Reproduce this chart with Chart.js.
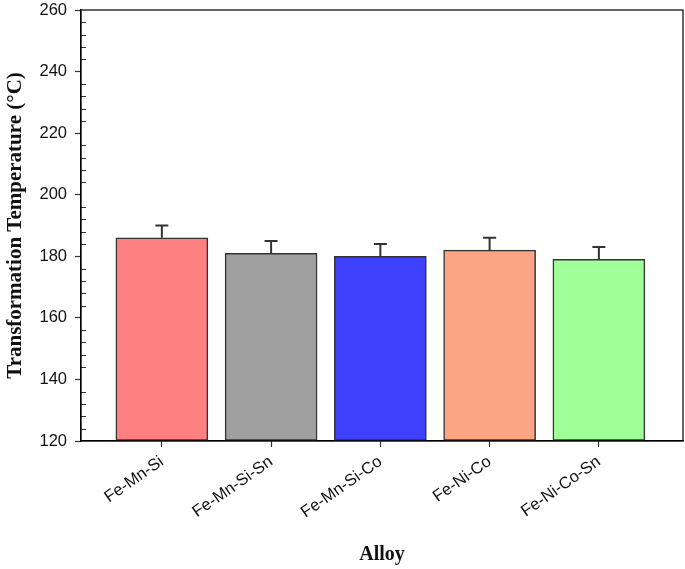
<!DOCTYPE html>
<html>
<head>
<meta charset="utf-8">
<script src="https://cdn.jsdelivr.net/npm/chart.js@4"></script>
<style>
html,body{margin:0;padding:0;background:#fff;}
canvas{display:block;}
</style>
</head>
<body>
<canvas id="c" width="685" height="569"></canvas>
<script>
const categories = ['Fe-Mn-Si', 'Fe-Mn-Si-Sn', 'Fe-Mn-Si-Co', 'Fe-Ni-Co', 'Fe-Ni-Co-Sn'];
const values = [186, 181, 180, 182, 179];
const errors = [4, 4, 4, 4, 4];
const barColors = ['#FF8080', '#A0A0A0', '#4040FF', '#FCA584', '#A0FF98'];
const yTicks = [120, 140, 160, 180, 200, 220, 240, 260];

const chartPlugin = {
  id: 'extras',
  afterDatasetsDraw(chart) {
    const ctx = chart.ctx;
    const xs = chart.scales.x, ys = chart.scales.y;
    ctx.save();
    ctx.strokeStyle = '#333';
    ctx.lineWidth = 2;
    values.forEach((v, i) => {
      const x = xs.getPixelForValue(i);
      const y0 = ys.getPixelForValue(v);
      const y1 = ys.getPixelForValue(v + errors[i]);
      ctx.beginPath();
      ctx.moveTo(x, y0); ctx.lineTo(x, y1);
      ctx.moveTo(x - 6.5, y1); ctx.lineTo(x + 6.5, y1);
      ctx.stroke();
    });
    ctx.strokeStyle = '#333';
    ctx.lineWidth = 1;
    const left = chart.chartArea.left;
    for (let v = ys.min; v <= ys.max; v += 4) {
      if ((v - ys.min) % 20 === 0) continue;
      const y = Math.round(ys.getPixelForValue(v)) + 0.5;
      ctx.beginPath();
      ctx.moveTo(left, y); ctx.lineTo(left + 5, y);
      ctx.stroke();
    }
    const a = chart.chartArea;
    ctx.strokeStyle = '#000';
    ctx.lineWidth = 1.2;
    ctx.strokeRect(a.left, a.top, a.right - a.left, a.bottom - a.top);
    ctx.restore();
  }
};

new Chart(document.getElementById('c'), {
  type: 'bar',
  data: {
    datasets: [{
      data: values.map((v, i) => ({x: i, y: v})),
      backgroundColor: barColors,
      borderColor: '#333',
      borderWidth: 1.5,
      borderSkipped: false,
      barThickness: 92,
      base: 120
    }]
  },
  options: {
    responsive: false,
    animation: false,
    layout: {padding: {top: 10, right: 2, left: 0, bottom: 0}},
    plugins: {legend: {display: false}, tooltip: {enabled: false}},
    scales: {
      x: {
        type: 'linear',
        offset: false,
        min: -0.74,
        max: 4.77,
        afterBuildTicks(scale) { scale.ticks = categories.map((c, i) => ({value: i})); },
        afterFit(scale) { scale.height = 128; scale.paddingLeft = 0; scale.paddingRight = 0; },
        ticks: {
          callback: (v) => categories[v],
          minRotation: 35, maxRotation: 35,
          autoSkip: false,
          color: '#111',
          font: {family: 'Liberation Sans, Arial, sans-serif', size: 16.5},
          padding: 5
        },
        grid: {offset: false, drawOnChartArea: false, tickLength: 6, color: '#333', tickWidth: 1.2},
        border: {color: '#000', width: 1.2},
        title: {
          display: true, text: 'Alloy', color: '#111',
          font: {family: 'Liberation Serif, Times New Roman, serif', size: 20, weight: 'bold'},
          padding: {top: 0, bottom: 2}
        }
      },
      y: {
        min: 120, max: 260,
        afterBuildTicks(scale) { scale.ticks = yTicks.map(v => ({value: v})); },
        afterFit(scale) { scale.width = 81; scale.paddingTop = 0; scale.paddingBottom = 0; },
        ticks: {
          color: '#111',
          font: {family: 'Liberation Sans, Arial, sans-serif', size: 16.5},
          padding: 8
        },
        grid: {drawOnChartArea: false, tickLength: 6, color: '#333', tickWidth: 1.2},
        border: {color: '#000', width: 1.2},
        title: {
          display: true, text: 'Transformation Temperature (°C)', color: '#111',
          font: {family: 'Liberation Serif, Times New Roman, serif', size: 21, weight: 'bold'},
          padding: {top: 3, bottom: 0}
        }
      }
    }
  },
  plugins: [chartPlugin]
});
</script>
</body>
</html>
